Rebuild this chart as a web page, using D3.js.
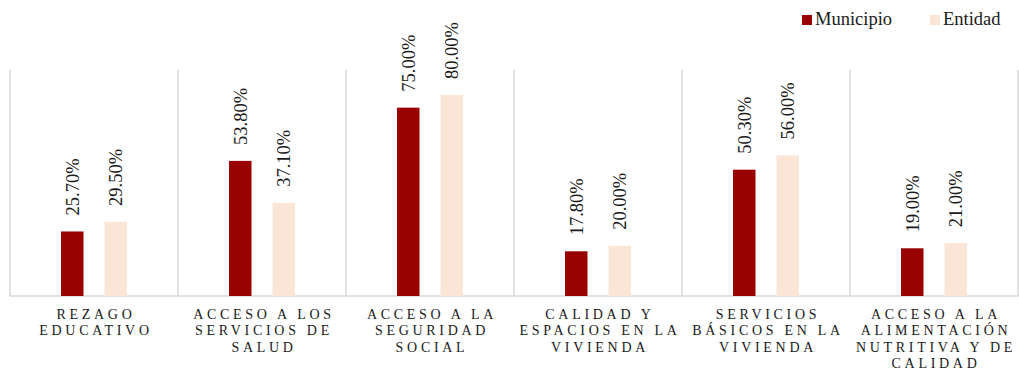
<!DOCTYPE html>
<html>
<head>
<meta charset="utf-8">
<script src="https://cdn.jsdelivr.net/npm/d3@7"></script>
<style>
  html, body { margin: 0; padding: 0; background: #fff; }
  svg { display: block; }
  svg text { font-family: "Liberation Serif", "Times New Roman", serif; }
</style>
</head>
<body>
<svg id="chart" width="1019" height="370"></svg>
<script>
// Categories (each entry holds the wrapped lines of its label)
const categories = [
  ["REZAGO", "EDUCATIVO"],
  ["ACCESO A LOS", "SERVICIOS DE", "SALUD"],
  ["ACCESO A LA", "SEGURIDAD", "SOCIAL"],
  ["CALIDAD Y", "ESPACIOS EN LA", "VIVIENDA"],
  ["SERVICIOS", "BÁSICOS EN LA", "VIVIENDA"],
  ["ACCESO A LA", "ALIMENTACIÓN", "NUTRITIVA Y DE", "CALIDAD"]
];
const seriesNames = ["Municipio", "Entidad"];
const municipio = [0.257, 0.538, 0.75, 0.178, 0.503, 0.19];
const entidad   = [0.295, 0.371, 0.80, 0.20, 0.56, 0.21];
const seriesColors = ["#990000", "#FBE5D6"];

const svg = d3.select("#chart");
const catKeys = categories.map(c => c.join(" "));

const x0 = d3.scaleBand().domain(catKeys).range([10, 1018]).padding(0);
const x1 = d3.scaleBand().domain(seriesNames).range([0, x0.bandwidth()])
  .paddingInner(0.483).paddingOuter(1.172);
const y = d3.scaleLinear().domain([0, 0.9]).range([296, 70]);

const rows = catKeys.map((k, i) => ({ key: k, values: [municipio[i], entidad[i]] }));

// Frame: vertical separators between categories and the baseline
const gridColor = "#d9d9d9";
const bounds = catKeys.map(k => x0(k)).concat([x0.range()[1]]);
svg.append("g").selectAll("line").data(bounds).join("line")
  .attr("x1", d => d).attr("x2", d => d)
  .attr("y1", y(0.9)).attr("y2", y(0))
  .attr("stroke", gridColor).attr("stroke-width", 1.5);
svg.append("line")
  .attr("x1", x0.range()[0] - 0.75).attr("x2", x0.range()[1] + 0.75)
  .attr("y1", y(0)).attr("y2", y(0))
  .attr("stroke", gridColor).attr("stroke-width", 1.5);

// Bars and rotated value labels
const fmt = d3.format(".2%");
const groups = svg.append("g").selectAll("g").data(rows).join("g")
  .attr("transform", d => `translate(${x0(d.key)},0)`);

groups.selectAll("rect")
  .data(d => d.values.map((v, j) => ({ name: seriesNames[j], v, j })))
  .join("rect")
  .attr("x", d => x1(d.name))
  .attr("y", d => y(d.v))
  .attr("width", x1.bandwidth())
  .attr("height", d => y(0) - y(d.v))
  .attr("fill", d => seriesColors[d.j]);

groups.selectAll("text.val")
  .data(d => d.values.map((v, j) => ({ name: seriesNames[j], v, j })))
  .join("text")
  .attr("class", "val")
  .attr("transform", d => `translate(${x1(d.name) + x1.bandwidth() / 2 + 6.5},${y(d.v) - 16}) rotate(-90)`)
  .attr("text-anchor", "start")
  .attr("font-size", "18.5px")
  .attr("fill", "#1a1a1a")
  .text(d => fmt(d.v));

// Category labels, letter-spaced and centred under each group
const labels = svg.append("g").selectAll("text.cat").data(categories).join("text")
  .attr("class", "cat")
  .attr("text-anchor", "middle")
  .attr("font-size", "14px")
  .attr("letter-spacing", "3.7px")
  .attr("fill", "#1a1a1a");
labels.each(function (lines, i) {
  const cx = x0(catKeys[i]) + x0.bandwidth() / 2 + 2;
  d3.select(this).selectAll("tspan").data(lines).join("tspan")
    .attr("x", cx)
    .attr("y", (d, k) => 319 + k * 16.4)
    .text(d => d);
});

// Legend
const legend = svg.append("g").selectAll("g").data(seriesNames).join("g")
  .attr("transform", (d, i) => `translate(${[802, 930][i]},15)`);
legend.append("rect").attr("width", 10).attr("height", 10)
  .attr("fill", (d, i) => seriesColors[i]);
legend.append("text").attr("x", 13).attr("y", 10)
  .attr("font-size", "18.5px").attr("fill", "#1a1a1a")
  .text(d => d);
</script>
</body>
</html>
